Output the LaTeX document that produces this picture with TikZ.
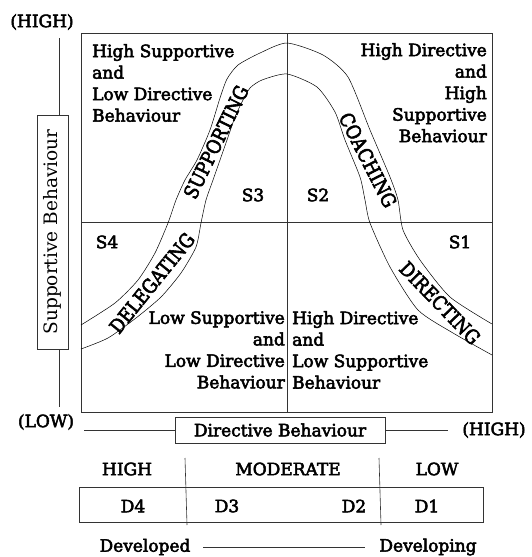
\documentclass[tikz,border=0pt]{standalone}
\usepackage{fontspec}
\setmainfont{DejaVu Serif}
\newfontfamily\hv{DejaVu Serif}[FakeBold=3]
\newfontfamily\hvc{DejaVu Serif}[FakeBold=3,FakeStretch=0.88]
\begin{document}
\begin{tikzpicture}[x=1pt,y=-1pt,
  lbl/.style={inner sep=0pt,font=\hv\fontsize{17}{21.5}\selectfont},
  clbl/.style={inner sep=0pt,font=\hvc\fontsize{19.5}{21.5}\selectfont},
  ln/.style={line width=0.6pt,draw=black!80},
  cv/.style={line width=0.5pt,draw=black},
  bx/.style={draw=black!80,line width=0.6pt}]
\useasboundingbox (0,0) rectangle (532,557);
% main frame
\draw[ln] (81,33) rectangle (492,412);
\coordinate (mt) at (287,33); \coordinate (mb) at (287,412);
\coordinate (ml) at (81,222); \coordinate (mr) at (492,222);
\draw[ln] (mt) -- (mb);
\draw[ln] (ml) -- (mr);
% curves
\draw[cv] plot[smooth,tension=0.4] coordinates {(81,325) (115,303) (138,280) (155,253) (168,223) (176,200) (185,180) (197,160) (210,130) (220,98) (227,79) (238,65) (260,53) (287,43) (323,55) (348,77) (370,130) (390,177) (398,200) (403,230) (420,260) (450,297) (492,324)};
\draw[cv] plot[smooth,tension=0.4] coordinates {(81,349) (108,338) (136,318) (161,297) (181,273) (196,247) (201,223) (206,200) (213,180) (227,140) (235,117) (242,102) (250,88) (262,80) (287,74) (317,87) (335,112) (345,140) (360,177) (365,200) (370,223) (390,267) (418,310) (453,333) (492,355)};
% curve labels
\node[clbl,rotate=64] (sup) at (216,142) {SUPPORTING};
\node[clbl,rotate=-63] (coa) at (368,160) {COACHING};
\node[clbl,rotate=51] (del) at (152,283) {DELEGATING};
\node[clbl,rotate=-46] (dir) at (440,303) {DIRECTING};
% quadrant texts
\node[lbl,align=left,anchor=north west] (q3) at (92,44) {High Supportive\\and\\Low Directive\\Behaviour};
\node[lbl,align=right,anchor=north east] (q2) at (487,43) {High Directive\\and\\High\\Supportive\\Behaviour};
\node[lbl,align=right,anchor=north east] (q4) at (285,311) {Low Supportive\\and\\Low Directive\\Behaviour};
\node[lbl,align=left,anchor=north west] (q1) at (292,311) {High Directive\\and\\Low Supportive\\Behaviour};
\node[lbl] (s3) at (253,195) {S3};
\node[lbl] (s2) at (318,195) {S2};
\node[lbl] (s4) at (107,242) {S4};
\node[lbl] (s1) at (460,242) {S1};
% vertical axis
\node[lbl] (vh) at (42,22) {(HIGH)};
\node[lbl] (vl) at (46,422) {(LOW)};
\node[bx,minimum width=31pt,minimum height=234pt,inner sep=0pt] (sb) at (52.5,232) {};
\node[inner sep=0pt,font=\fontsize{18.5}{20}\selectfont,rotate=90] (sbt) at (sb.center) {Supportive Behaviour};
\coordinate (vtop) at (59,38);
\coordinate (vbot) at (59,407);
\draw[ln] (vtop) -- (vtop |- sb.north);
\draw[ln] (vbot |- sb.south) -- (vbot);
% horizontal axis
\node[bx,minimum width=210pt,minimum height=26pt,inner sep=0pt] (db) at (280,430) {};
\node[lbl] (dbt) at (db.center) {Directive Behaviour};
\node[lbl] (hh) at (494,430) {(HIGH)};
\coordinate (hl) at (84,430);
\coordinate (hr) at (448,430);
\draw[ln] (hl) -- (db.west);
\draw[ln] (db.east) -- (hr);
% development scale
\node[lbl] (hi) at (127,469) {HIGH};
\node[lbl] (mo) at (288,469) {MODERATE};
\node[lbl] (lo) at (437,469) {LOW};
\node[bx,minimum width=404pt,minimum height=35pt,inner sep=0pt] (dbox) at (281,504.5) {};
\coordinate (a1) at (185,458); \coordinate (a2) at (187,525);
\coordinate (b1) at (379,458); \coordinate (b2) at (381,525);
\draw[ln] (a1) -- (a2);
\draw[ln] (b1) -- (b2);
\node[lbl] (d4) at (133,506) {D4};
\node[lbl] (d3) at (227,506) {D3};
\node[lbl] (d2) at (354,506) {D2};
\node[lbl] (d1) at (427,506) {D1};
\node[lbl] (dev1) at (145,547) {Developed};
\node[lbl] (dev2) at (428,547) {Developing};
\coordinate (e1) at (203,547); \coordinate (e2) at (365,547);
\draw[ln] (e1) -- (e2);
\end{tikzpicture}
\end{document}
